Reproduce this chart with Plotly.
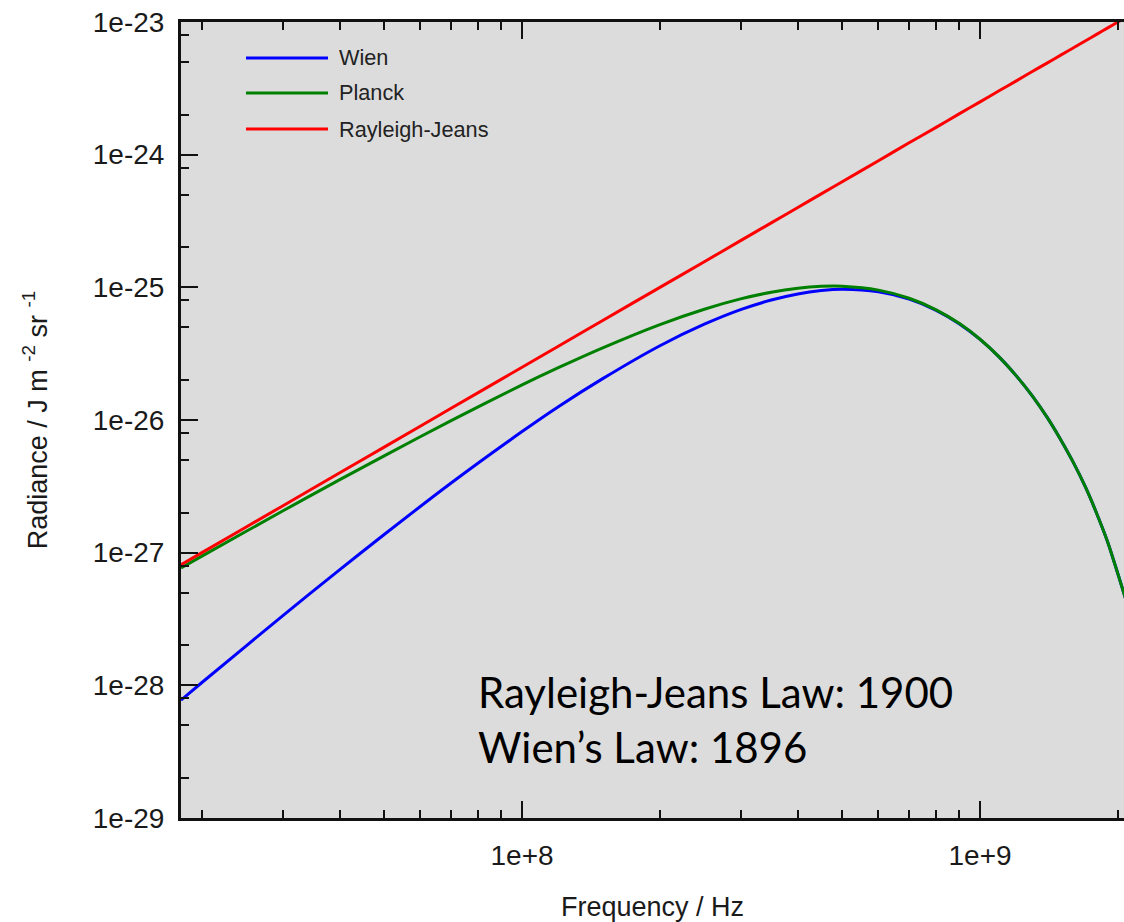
import plotly.graph_objects as go

# ---- data ----
freq_hz = [1.8e7, 2e7, 3e7, 4e7, 5e7, 7e7, 1e8, 1.2e8, 1.5e8, 2e8, 2.5e8, 3e8,
           3.5e8, 4e8, 4.5e8, 5e8, 6e8, 7e8, 8e8, 9e8, 1e9, 1.1e9, 1.2e9, 1.3e9,
           1.4e9, 1.5e9, 1.6e9, 1.7e9, 1.8e9, 1.9e9, 2e9, 2.1e9]
wien = [7.73e-29, 1.05e-28, 3.34e-28, 7.45e-28, 1.37e-27, 3.35e-27, 8.18e-27,
        1.26e-26, 2.05e-26, 3.63e-26, 5.27e-26, 6.79e-26, 8.02e-26, 8.92e-26,
        9.45e-26, 9.66e-26, 9.25e-26, 8.15e-26, 6.74e-26, 5.32e-26, 4.05e-26,
        2.99e-26, 2.15e-26, 1.52e-26, 1.05e-26, 7.1e-27, 4.75e-27, 3.1e-27,
        1.95e-27, 1.2e-27, 6.9e-28, 4.0e-28]
planck = [7.68e-28, 9.42e-28, 2.06e-27, 3.55e-27, 5.37e-27, 9.90e-27, 1.84e-26,
          2.48e-26, 3.50e-26, 5.24e-26, 6.84e-26, 8.18e-26, 9.19e-26, 9.85e-26,
          1.017e-25, 1.019e-25, 9.53e-26, 8.28e-26, 6.80e-26, 5.35e-26, 4.06e-26,
          2.99e-26, 2.15e-26, 1.52e-26, 1.05e-26, 7.1e-27, 4.75e-27, 3.1e-27,
          1.95e-27, 1.2e-27, 6.9e-28, 4.0e-28]
rayleigh_jeans = [8.1e-28, 1.0e-27, 2.25e-27, 4.0e-27, 6.25e-27, 1.225e-26, 2.5e-26,
                  3.6e-26, 5.63e-26, 1.0e-25, 1.56e-25, 2.25e-25, 3.06e-25, 4.0e-25,
                  5.06e-25, 6.25e-25, 9.0e-25, 1.23e-24, 1.6e-24, 2.03e-24, 2.5e-24,
                  3.03e-24, 3.6e-24, 4.23e-24, 4.9e-24, 5.63e-24, 6.4e-24, 7.23e-24,
                  8.1e-24, 9.03e-24, 1.0e-23, 1.1e-23]

series_names = ["Wien", "Planck", "Rayleigh-Jeans"]
series_colors = ["#0000ff", "#008000", "#ff0000"]

x_tickvals = [1e8, 1e9]
x_ticktext = ["1e+8", "1e+9"]
y_tickvals = [1e-29, 1e-28, 1e-27, 1e-26, 1e-25, 1e-24, 1e-23]
y_ticktext = ["1e-29", "1e-28", "1e-27", "1e-26", "1e-25", "1e-24", "1e-23"]

x_minor = [m * 10.0 ** e for e in (7, 8, 9) for m in range(2, 10)]
y_minor = [m * 10.0 ** e for e in range(-29, -23) for m in (2, 5, 8)]

annotation_text = "Rayleigh-Jeans Law: 1900<br>Wien\u2019s Law: 1896"

# ---- figure ----
W, H = 1124, 922
ML, MR, MT, MB = 181, 0, 22, 104
PW, PH = W - ML - MR, H - MT - MB

fig = go.Figure()
for name, vals, col in zip(series_names, [wien, planck, rayleigh_jeans], series_colors):
    fig.add_trace(go.Scatter(
        x=freq_hz, y=vals, mode="lines", name=name,
        line=dict(color=col, width=3, shape="spline", smoothing=0.8),
        showlegend=False,
    ))

FONT = "Liberation Sans, Arial, sans-serif"
axis_font = dict(family=FONT, size=28, color="#1a1a1a")

fig.update_xaxes(
    type="log", range=[7.2553, 7.2553 + PW / 458.0],
    tickmode="array", tickvals=x_tickvals, ticktext=x_ticktext,
    ticks="inside", ticklen=17, tickwidth=2, tickcolor="#111",
    minor=dict(tickmode="array", tickvals=x_minor, ticks="inside", ticklen=8,
               tickwidth=2, tickcolor="#111", showgrid=False),
    showline=True, linewidth=3, linecolor="#111", mirror="ticks",
    showgrid=False, zeroline=False, tickfont=axis_font, ticklabelstandoff=10,
    title=dict(text="Frequency / Hz", font=dict(family=FONT, size=27, color="#1a1a1a"),
               standoff=28),
)
fig.update_yaxes(
    type="log", range=[-29, -23],
    tickmode="array", tickvals=y_tickvals, ticktext=y_ticktext,
    ticks="inside", ticklen=17, tickwidth=2, tickcolor="#111",
    minor=dict(tickmode="array", tickvals=y_minor, ticks="inside", ticklen=8,
               tickwidth=2, tickcolor="#111", showgrid=False),
    showline=True, linewidth=3, linecolor="#111", mirror=False,
    showgrid=False, zeroline=False, tickfont=axis_font, ticklabelstandoff=8,
    title=dict(text="Radiance / J m <sup>-2</sup> sr <sup>-1</sup>",
               font=dict(family=FONT, size=27, color="#1a1a1a"),
               standoff=38),
)

# legend drawn as key lines + labels in the top-left corner of the plot area
def px_x(p):
    return (p - ML) / PW

def px_y(p):
    return 1 - (p - MT) / PH

legend_rows = [58, 93, 129]
for name, col, yy in zip(series_names, series_colors, legend_rows):
    fig.add_shape(type="line", xref="paper", yref="paper",
                  x0=px_x(246), x1=px_x(328), y0=px_y(yy), y1=px_y(yy),
                  line=dict(color=col, width=3))
    fig.add_annotation(xref="paper", yref="paper", x=px_x(337), y=px_y(yy),
                       xanchor="left", yanchor="middle", showarrow=False, text=name,
                       font=dict(family=FONT, size=21.7, color="#222"))

fig.add_annotation(xref="paper", yref="paper", x=px_x(476), y=px_y(719),
                   xanchor="left", yanchor="middle", align="left", showarrow=False,
                   text=annotation_text,
                   font=dict(family="Lato, sans-serif", size=42, color="#000"))

fig.update_layout(
    width=W, height=H, margin=dict(l=ML, r=MR, t=MT, b=MB, autoexpand=False),
    plot_bgcolor="#dcdcdc", paper_bgcolor="#ffffff", showlegend=False,
)

fig.write_html(
    "out.html",
    config={"displayModeBar": False},
    post_script="document.body.style.margin='0';document.body.style.overflow='hidden';",
)
